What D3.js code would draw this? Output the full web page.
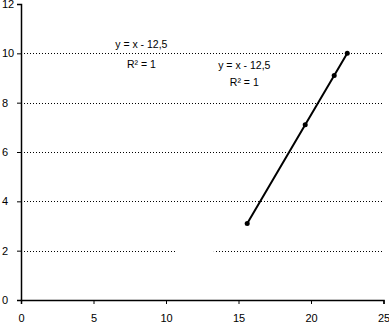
<!DOCTYPE html>
<html>
<head>
<meta charset="utf-8">
<script src="https://cdn.jsdelivr.net/npm/d3@7"></script>
<style>
body { margin: 0; background: #fff; }
text { font-family: "Liberation Sans", Arial, sans-serif; font-size: 10.5px; fill: #000; }
</style>
</head>
<body>
<svg id="chart" width="389" height="324"></svg>
<script>
var xVals = [15.6, 19.6, 21.6, 22.5]
var yVals = [3.1, 7.1, 9.1, 10]
var xTicks = [0, 5, 10, 15, 20, 25]
var yTicks = [0, 2, 4, 6, 8, 10, 12]
var gridVals = [2, 4, 6, 8, 10]
var eqLabels = [
    { x: 8.3, y: 10.22, t: "y = x - 12,5" },
    { x: 8.3, y: 9.41, t: "R² = 1" },
    { x: 15.4, y: 9.36, t: "y = x - 12,5" },
    { x: 15.4, y: 8.66, t: "R² = 1" }
]

var svg = d3.select("#chart"),
    margin = { top: 4, right: 6, bottom: 24, left: 21 },
    width = +svg.attr("width") - margin.left - margin.right,
    height = +svg.attr("height") - margin.top - margin.bottom

var x = d3.scaleLinear().domain([0, 25]).range([0, width + 0.5])
var y = d3.scaleLinear().domain([0, 12]).range([height, 0])

var g = svg.append("g")
    .attr("transform", "translate(" + margin.left + "," + margin.top + ")")

// dotted gridlines
g.selectAll(".grid")
    .data(gridVals)
    .enter().append("line")
    .attr("class", "grid")
    .attr("x1", 0)
    .attr("x2", x(25))
    .attr("y1", function (d) { return Math.round(y(d)) + 0.5 })
    .attr("y2", function (d) { return Math.round(y(d)) + 0.5 })
    .attr("stroke", "#000")
    .attr("stroke-width", 1)
    .attr("stroke-dasharray", "1,2")

// blank label box that hides part of the lowest gridline
g.append("rect")
    .attr("x", x(10.7))
    .attr("y", y(2) - 3)
    .attr("width", x(13.3) - x(10.7))
    .attr("height", 6)
    .attr("fill", "#fff")

var xAxis = g.append("g")
    .attr("transform", "translate(0," + height + ")")
    .call(d3.axisBottom(x).tickValues(xTicks).tickSize(4).tickPadding(10).tickFormat(d3.format("d")))
var yAxis = g.append("g")
    .call(d3.axisLeft(y).tickValues(yTicks).tickSize(4).tickPadding(6).tickFormat(d3.format("d")))

svg.selectAll(".domain").attr("stroke", "#000").attr("stroke-width", 1.5)
svg.selectAll(".tick line").attr("stroke", "#000")
svg.selectAll(".tick text").style("font-size", "11px").style("font-family", "Liberation Sans, Arial, sans-serif")
yAxis.selectAll(".tick text").attr("text-anchor", "start").attr("x", -19)

var pts = xVals.map(function (d, i) { return { x: d, y: yVals[i] } })

var line = d3.line()
    .x(function (d) { return x(d.x) })
    .y(function (d) { return y(d.y) })

g.append("path")
    .attr("d", line(pts))
    .attr("fill", "none")
    .attr("stroke", "#000")
    .attr("stroke-width", 2)

g.selectAll(".pt")
    .data(pts)
    .enter().append("circle")
    .attr("class", "pt")
    .attr("cx", function (d) { return x(d.x) })
    .attr("cy", function (d) { return y(d.y) })
    .attr("r", 2.5)
    .attr("fill", "#000")

g.selectAll(".eq")
    .data(eqLabels)
    .enter().append("text")
    .attr("class", "eq")
    .attr("x", function (d) { return x(d.x) })
    .attr("y", function (d) { return y(d.y) })
    .attr("text-anchor", "middle")
    .text(function (d) { return d.t })
</script>
</body>
</html>
